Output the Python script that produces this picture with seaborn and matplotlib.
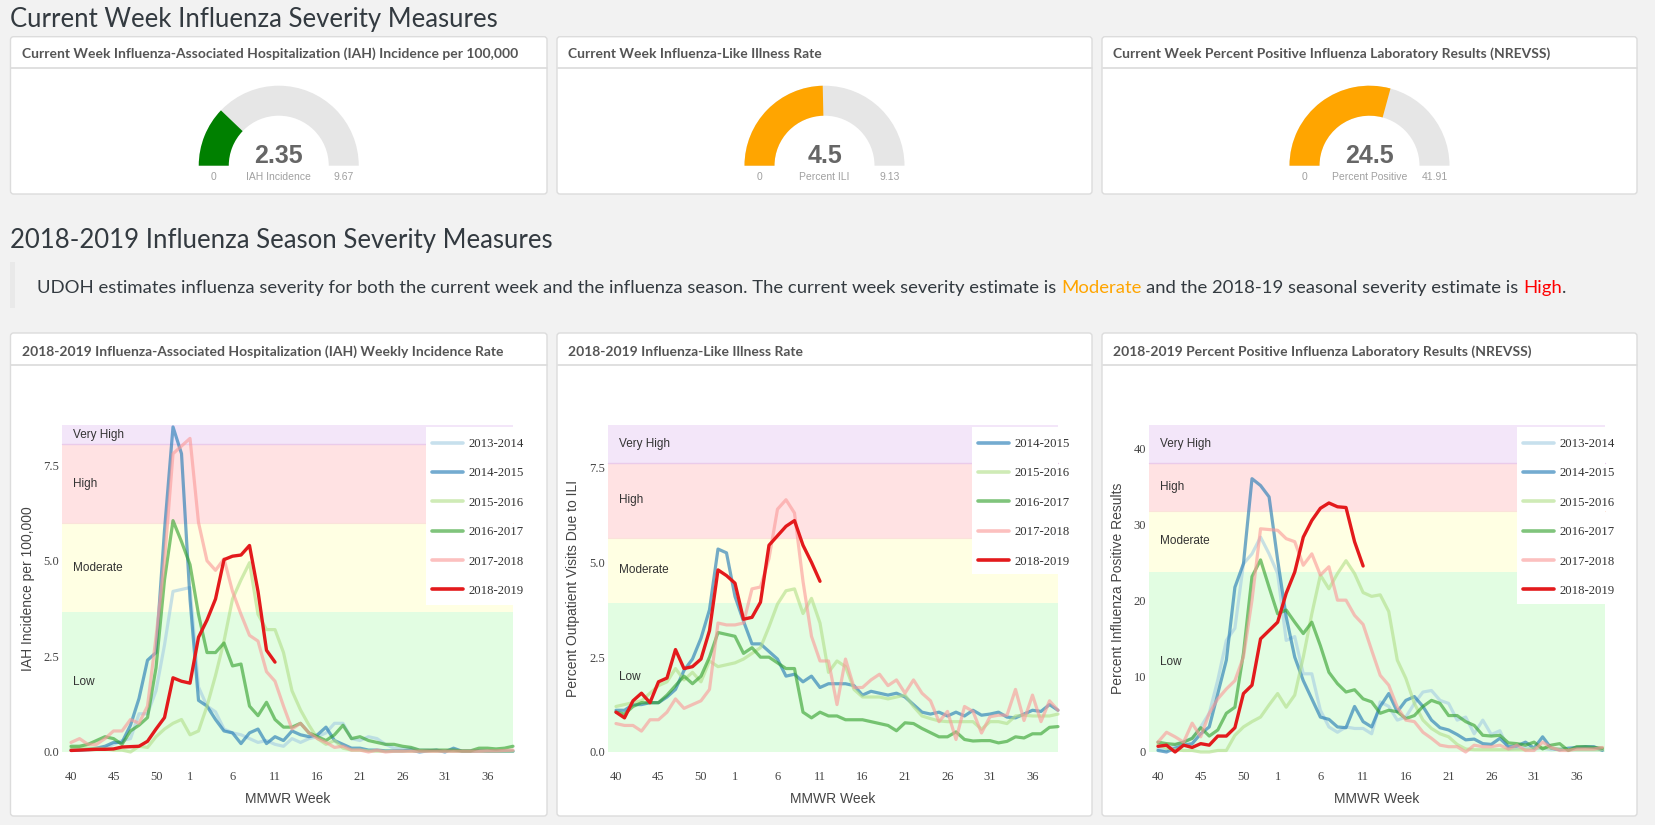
import numpy as np
import pandas as pd
import matplotlib
matplotlib.use("Agg")
import matplotlib.pyplot as plt
import seaborn as sns
from matplotlib.patches import Wedge, Rectangle, FancyBboxPatch
import matplotlib.transforms as mtransforms

# ---------------- data ----------------
MMWR_WEEKS = list(range(40, 54)) + list(range(1, 40))
TICK_WEEKS = [40, 45, 50, 1, 6, 11, 16, 21, 26, 31, 36]

SEASONS = ["2013-2014", "2014-2015", "2015-2016", "2016-2017", "2017-2018", "2018-2019"]
SEASON_COLORS = ["#a6cee3", "#1f78b4", "#b2df8a", "#33a02c", "#fb9a99", "#e31a1c"]

# IAH incidence per 100,000
iah_2013 = [0.05, 0.05, 0.05, 0.08, 0.1, 0.2, 0.3, 0.35, 1.0, 1.0,
            1.6, 2.8, 4.2, 4.25, 4.3, 1.7, 1.2, 1.05, 0.6, 0.5,
            0.45, 0.35, 0.25, 0.3, 0.2, 0.15, 0.35, 0.25, 0.35, 0.4,
            0.5, 0.75, 0.75, 0.35, 0.3, 0.4, 0.35, 0.2, 0.1, 0.08,
            0.1, 0.05, 0.05, 0.03, 0.03, 0.02, 0.02, 0.02, 0.02, 0.02, 0.02, 0.02, 0.02]
iah_2014 = [0.05, 0.05, 0.07, 0.1, 0.15, 0.25, 0.25, 0.7, 1.4, 2.4,
            2.6, 5.8, 8.5, 7.8, 4.0, 1.35, 1.2, 0.85, 0.55, 0.5,
            0.22, 0.5, 0.6, 0.22, 0.4, 0.3, 0.55, 0.45, 0.4, 0.45,
            0.65, 0.3, 0.2, 0.1, 0.1, 0.05, 0.05, 0.03, 0.03, 0.03,
            0.05, 0.0, 0.03, 0.05, 0.0, 0.1, 0.02, 0.02, 0.03, 0.02, 0.02, 0.02, 0.02]
iah_2015 = [0.1, 0.1, 0.1, 0.1, 0.08, 0.05, 0.05, 0.0, 0.15, 0.12,
            0.4, 0.6, 0.75, 0.85, 0.45, 0.55, 1.2, 2.0, 2.9, 4.0,
            4.5, 4.95, 3.6, 3.2, 3.2, 2.6, 1.6, 1.1, 0.7, 0.35,
            0.2, 0.3, 0.1, 0.05, 0.05, 0.03, 0.02, 0.02, 0.02, 0.02,
            0.02, 0.02, 0.02, 0.02, 0.02, 0.02, 0.02, 0.02, 0.02, 0.02, 0.02, 0.02, 0.02]
iah_2016 = [0.15, 0.15, 0.2, 0.3, 0.4, 0.35, 0.2, 0.55, 0.7, 0.9,
            2.2, 4.5, 6.05, 5.5, 4.9, 3.6, 2.6, 2.6, 2.85, 2.25,
            2.3, 1.2, 0.95, 1.3, 0.85, 0.65, 0.65, 0.75, 0.5, 0.4,
            0.3, 0.45, 0.7, 0.35, 0.4, 0.3, 0.25, 0.2, 0.2, 0.15,
            0.12, 0.05, 0.05, 0.05, 0.05, 0.05, 0.03, 0.03, 0.1, 0.1, 0.08, 0.1, 0.15]
iah_2017 = [0.25, 0.35, 0.2, 0.2, 0.35, 0.55, 0.55, 0.85, 0.75, 1.2,
            3.0, 5.0, 7.8, 8.0, 8.2, 6.0, 5.0, 4.75, 5.05, 4.2,
            3.6, 3.05, 2.9, 2.1, 1.85, 1.2, 0.6, 0.75, 0.5, 0.35,
            0.25, 0.12, 0.15, 0.05, 0.05, 0.0, 0.05, 0.0, 0.02, 0.02,
            0.02, 0.02, 0.02, 0.02, 0.02, 0.02, 0.02, 0.02, 0.02, 0.03, 0.03, 0.04, 0.05]
iah_2018 = [0.04, 0.05, 0.06, 0.07, 0.07, 0.08, 0.13, 0.14, 0.15, 0.28,
            0.6, 0.9, 1.94, 1.85, 1.8, 3.0, 3.45, 4.0, 5.03, 5.12,
            5.15, 5.4, 4.2, 2.66, 2.35]

# Percent outpatient visits due to ILI
ili_2014 = [1.1, 1.1, 1.25, 1.25, 1.3, 1.3, 1.45, 1.65, 2.15, 2.45,
            3.0, 3.75, 5.35, 5.25, 4.1, 3.45, 2.85, 2.85, 2.65, 2.45,
            2.0, 2.05, 1.85, 2.0, 1.7, 1.8, 1.8, 1.8, 1.75, 1.5,
            1.6, 1.55, 1.5, 1.55, 1.45, 1.25, 1.05, 1.0, 1.05, 0.95,
            1.05, 0.95, 1.1, 0.97, 1.0, 1.05, 0.92, 0.9, 1.0, 1.1, 1.07, 1.25, 1.1]
ili_2015 = [1.2, 1.25, 1.3, 1.35, 1.55, 1.75, 1.85, 2.2, 1.9, 2.1,
            1.85, 2.4, 2.25, 2.3, 2.35, 2.45, 2.6, 2.75, 3.3, 3.9,
            4.25, 4.3, 3.65, 4.05, 3.4, 2.1, 2.4, 2.25, 1.65, 1.45,
            1.45, 1.45, 1.4, 1.45, 1.5, 1.2, 0.95, 0.88, 0.82, 0.8,
            0.8, 0.8, 0.8, 0.6, 0.8, 0.8, 0.75, 0.95, 0.97, 0.95, 0.95, 0.95, 1.0]
ili_2016 = [1.05, 1.0, 1.2, 1.3, 1.3, 1.3, 1.5, 1.75, 2.0, 1.8,
            2.0, 2.5, 3.15, 3.1, 3.05, 2.6, 2.75, 2.5, 2.5, 2.35,
            2.2, 2.2, 1.05, 0.9, 1.05, 0.95, 0.95, 0.85, 0.85, 0.85,
            0.8, 0.75, 0.7, 0.56, 0.77, 0.75, 0.62, 0.51, 0.4, 0.4,
            0.53, 0.33, 0.29, 0.3, 0.3, 0.24, 0.28, 0.4, 0.37, 0.48, 0.48, 0.65, 0.67]
ili_2017 = [0.75, 0.7, 0.7, 0.55, 0.85, 0.85, 1.05, 1.4, 1.15, 1.25,
            1.35, 1.65, 3.4, 3.35, 3.35, 3.4, 4.3, 4.35, 5.1, 6.4,
            6.65, 6.3, 4.5, 3.05, 2.4, 2.4, 1.25, 2.45, 1.7, 1.7,
            1.9, 2.05, 1.75, 1.9, 1.55, 1.9, 1.55, 1.35, 0.8, 1.07,
            0.33, 1.2, 1.07, 0.5, 0.93, 0.97, 0.97, 1.65, 0.83, 1.5, 0.8, 1.35, 1.1]
ili_2018 = [1.05, 0.9, 1.35, 1.55, 1.3, 1.85, 1.95, 2.7, 2.2, 2.25,
            2.45, 3.2, 4.8, 4.65, 4.45, 3.5, 3.55, 3.95, 5.45, 5.7,
            5.95, 6.1, 5.45, 5.0, 4.5]

# Percent influenza positive results (NREVSS)
pos_2013 = [0.4, 0.2, 0.9, 1.3, 1.8, 3.3, 5.1, 9.5, 14.7, 16.3,
            24.8, 26.1, 28.3, 26.1, 23.5, 14.7, 15.2, 10.3, 10.3, 5.5,
            3.3, 2.6, 3.3, 3.1, 3.1, 2.4, 6.6, 6.0, 4.2, 4.6,
            6.4, 7.9, 8.1, 6.8, 6.4, 4.2, 4.6, 2.4, 4.2, 2.3,
            2.8, 0.4, 0.5, 0.6, 0.4, 0.5, 0.3, 0.4, 0.3, 0.3, 0.3, 0.3, 0.3]
pos_2014 = [0.2, 0.0, 0.5, 0.9, 1.1, 2.4, 3.3, 7.7, 12.1, 21.7,
            24.8, 36.0, 35.1, 33.6, 25.3, 17.8, 12.5, 9.4, 7.0, 4.6,
            4.3, 3.3, 3.2, 6.0, 4.0, 3.3, 6.0, 7.7, 5.3, 6.8,
            7.3, 6.0, 4.2, 3.2, 2.9, 2.3, 1.6, 1.7, 1.1, 1.0,
            1.8, 0.7, 0.8, 1.3, 0.5, 2.0, 0.5, 0.3, 0.5, 0.6, 0.7, 0.7, 0.2]
pos_2015 = [1.0, 0.5, 0.3, 0.2, 0.2, 0.0, 0.0, 0.2, 0.2, 2.2,
            3.3, 4.0, 4.6, 6.2, 7.7, 5.9, 7.5, 12.5, 18.2, 23.3,
            21.5, 23.5, 25.2, 23.5, 21.0, 20.5, 20.7, 18.5, 12.1, 9.7,
            6.4, 4.2, 3.1, 2.4, 2.0, 1.0, 0.4, 0.3, 0.3, 0.3,
            0.3, 0.3, 0.3, 0.3, 0.5, 0.6, 0.5, 0.4, 0.3, 0.3, 0.3, 0.3, 0.3]
pos_2016 = [1.3, 1.1, 1.0, 1.3, 1.8, 3.2, 2.1, 2.9, 5.1, 5.9,
            13.0, 23.1, 25.3, 21.7, 18.2, 18.7, 17.1, 15.6, 17.1, 14.0,
            10.5, 9.0, 7.9, 8.2, 7.0, 6.6, 5.1, 5.5, 5.3, 4.4,
            4.8, 6.0, 6.8, 6.4, 4.8, 4.8, 4.0, 3.5, 2.2, 2.1,
            2.2, 1.2, 1.1, 0.9, 1.3, 0.4, 0.9, 1.1, 0.2, 0.7, 0.7, 0.6, 0.5]
pos_2017 = [1.3, 2.6, 2.0, 1.3, 3.8, 2.0, 5.1, 7.0, 8.3, 9.4,
            12.5, 20.0, 29.4, 29.3, 29.2, 28.1, 27.7, 24.6, 26.1, 23.3,
            24.4, 20.0, 20.0, 18.0, 16.8, 13.4, 10.1, 8.8, 5.9, 4.2,
            4.0, 2.6, 1.8, 0.9, 0.7, 0.7, 0.0, 0.9, 0.7, 0.7,
            0.9, 0.4, 0.9, 0.2, 0.2, 1.3, 0.6, 0.2, 0.2, 0.4, 0.4, 0.4, 0.6]
pos_2018 = [0.75, 0.9, 0.0, 0.9, 0.6, 1.1, 0.9, 2.1, 2.1, 3.2,
            7.7, 8.8, 14.9, 16.0, 17.1, 20.9, 23.7, 28.3, 30.5, 32.1,
            32.8, 32.3, 32.2, 27.7, 24.5]

# severity thresholds (band edges) for each chart
BAND_NAMES = ["Low", "Moderate", "High", "Very High"]
BAND_COLORS = ["#E2FDE2", "#FFFFE3", "#FFE2E3", "#F3E6F9"]
iah_bands = [0, 3.66, 5.98, 8.05, 8.55]
ili_bands = [0, 3.93, 5.65, 7.61, 8.62]
pos_bands = [0, 23.73, 31.78, 38.02, 43.07]

# current-week gauges
gauge_titles = ["Current Week Influenza-Associated Hospitalization (IAH) Incidence per 100,000",
                "Current Week Influenza-Like Illness Rate",
                "Current Week Percent Positive Influenza Laboratory Results (NREVSS)"]
gauge_values = [2.35, 4.5, 24.5]
gauge_values_txt = ["2.35", "4.5", "24.5"]
gauge_max = [9.67, 9.13, 41.91]
gauge_max_txt = ["9.67", "9.13", "41.91"]
gauge_labels = ["IAH Incidence", "Percent ILI", "Percent Positive"]
gauge_colors = ["#008000", "#FFA500", "#FFA500"]

chart_titles = ["2018-2019 Influenza-Associated Hospitalization (IAH) Weekly Incidence Rate",
                "2018-2019 Influenza-Like Illness Rate",
                "2018-2019 Percent Positive Influenza Laboratory Results (NREVSS)"]
y_titles = ["IAH Incidence per 100,000", "Percent Outpatient Visits Due to ILI",
            "Percent Influenza Positive Results"]

# ---------------- figure ----------------
sns.set_style("white")
plt.rcParams["font.family"] = ["Lato", "DejaVu Sans"]
W, H = 1655, 825
fig = plt.figure(figsize=(W / 100, H / 100), dpi=100)
fig.patch.set_facecolor("#F2F2F2")

bg = fig.add_axes([0, 0, 1, 1], zorder=0)
bg.set_xlim(0, W)
bg.set_ylim(H, 0)
bg.axis("off")

def px_axes(x0, y0, x1, y1, z=2):
    return fig.add_axes([x0 / W, 1 - y1 / H, (x1 - x0) / W, (y1 - y0) / H], zorder=z)

def panel(x0, y0, x1, y1, yhead):
    bg.add_patch(FancyBboxPatch((x0, y0), x1 - x0, y1 - y0,
                                boxstyle="round,pad=0,rounding_size=3",
                                fc="white", ec="#DCDCDC", lw=1.0))
    bg.plot([x0 + 0.5, x1 - 0.5], [yhead, yhead], color="#DDDDDD", lw=1.3)

PX = [(10.5, 547), (557, 1092), (1102, 1637)]

TITLE_COLOR = "#333A40"
bg.text(10.5, 27, "Current Week Influenza Severity Measures", fontsize=18.5,
        color=TITLE_COLOR, family="Lato", va="baseline")

# top gauge panels
for i, (x0, x1) in enumerate(PX):
    panel(x0, 36.7, x1, 194, 68.3)
    bg.text(x0 + 11, 54, gauge_titles[i], fontsize=10, fontweight="bold",
            color="#555555", family="Lato", va="center")
    cx, cy = (x0 + x1) / 2, 165.7
    frac = gauge_values[i] / gauge_max[i]
    bg.add_patch(Wedge((cx, cy), 80, 180, 360, width=30, fc="#E6E6E6", ec="none"))
    bg.add_patch(Wedge((cx, cy), 80, 180, 180 + 180 * frac, width=30,
                       fc=gauge_colors[i], ec="none"))
    bg.text(cx, 163, gauge_values_txt[i], fontsize=18, fontweight="bold", color="#666666",
            family="Liberation Sans", ha="center", va="baseline")
    bg.text(cx - 65, 177, "0", fontsize=7.5, color="#A0A0A0", family="Liberation Sans",
            ha="center", va="center")
    bg.text(cx, 177, gauge_labels[i], fontsize=7.5, color="#A0A0A0", family="Liberation Sans",
            ha="center", va="center")
    bg.text(cx + 65, 177, gauge_max_txt[i], fontsize=7.5, color="#A0A0A0",
            family="Liberation Sans", ha="center", va="center")

bg.text(10.5, 248, "2018-2019 Influenza Season Severity Measures", fontsize=18.5,
        color=TITLE_COLOR, family="Lato", va="baseline")

# blockquote
bg.add_patch(Rectangle((10, 262), 5, 46, fc="#E9E9E9", ec="none"))
renderer = fig.canvas.get_renderer()
PFS = 13.3
pieces = [("UDOH estimates influenza severity for both the current week and the influenza season. "
           "The current week severity estimate is", "#333A40"),
          ("Moderate", "#FFA500"),
          ("and the 2018-19 seasonal severity estimate is", "#333A40"),
          ("High", "#FF0000"),
          (".", "#333A40")]
def twidth(s):
    t = bg.text(0, 0, s, fontsize=PFS, family="Lato")
    w = t.get_window_extent(renderer).width
    t.remove()
    return w
space_w = twidth("a a") - twidth("aa")
xpos = 37
for k, (s, c) in enumerate(pieces):
    t = bg.text(xpos, 293, s, fontsize=PFS, color=c, family="Lato", va="baseline")
    w = t.get_window_extent(renderer).width
    xpos += w + (space_w if k < 3 else 0)

# bottom chart panels
for i, (x0, x1) in enumerate(PX):
    panel(x0, 333, x1, 816, 365)
    bg.text(x0 + 11, 352, chart_titles[i], fontsize=10, fontweight="bold",
            color="#555555", family="Lato", va="center")

charts = [
    dict(rect=(62, 425, 513, 752), xlim=(-1.06, 52.0), bands=iah_bands,
         series=[iah_2013, iah_2014, iah_2015, iah_2016, iah_2017, iah_2018],
         seasons=SEASONS, yticks=[0, 2.5, 5.0, 7.5], ylab=["0.0", "2.5", "5.0", "7.5"],
         leg_box=0.807, leg_bottom=0.4495, ylabx=-0.060),
    dict(rect=(608, 425, 1058, 752), xlim=(-0.94, 52.0), bands=ili_bands,
         series=[ili_2014, ili_2015, ili_2016, ili_2017, ili_2018],
         seasons=SEASONS[1:], yticks=[0, 2.5, 5.0, 7.5], ylab=["0.0", "2.5", "5.0", "7.5"],
         leg_box=0.809, leg_bottom=0.544, ylabx=-0.062),
    dict(rect=(1149, 425, 1605, 752), xlim=(-1.05, 52.3), bands=pos_bands,
         series=[pos_2013, pos_2014, pos_2015, pos_2016, pos_2017, pos_2018],
         seasons=SEASONS, yticks=[0, 10, 20, 30, 40], ylab=["0", "10", "20", "30", "40"],
         leg_box=0.807, leg_bottom=0.453, ylabx=-0.053),
]

color_of = dict(zip(SEASONS, SEASON_COLORS))
tick_pos = [MMWR_WEEKS.index(w) for w in TICK_WEEKS]
serif = "Liberation Serif"
sans = "Liberation Sans"

for ci, ch in enumerate(charts):
    ax = px_axes(*ch["rect"])
    ax.set_facecolor("white")
    b = ch["bands"]
    ax.set_xlim(*ch["xlim"])
    ax.set_ylim(0, b[-1])
    for k in range(4):
        ax.axhspan(b[k], b[k + 1], color=BAND_COLORS[k], lw=0, zorder=0)
        ax.text(0.024, (b[k] + b[k + 1]) / 2, BAND_NAMES[k],
                transform=mtransforms.blended_transform_factory(ax.transAxes, ax.transData),
                fontsize=8.5, color="#333333", family=sans, va="center", ha="left", zorder=1)
    ax.axhline(b[3], color="#EACBEA", lw=1.0, zorder=0.5)
    ax.axhline(b[2], color="#FBE2DA", lw=0.8, zorder=0.5)

    rows = []
    for s, vals in zip(ch["seasons"], ch["series"]):
        for j, v in enumerate(vals):
            rows.append((s, j, MMWR_WEEKS[j], v))
    df = pd.DataFrame(rows, columns=["season", "pos", "week", "value"])

    for s in ch["seasons"]:
        d = df[df["season"] == s]
        cur = s == "2018-2019"
        sns.lineplot(data=d, x="pos", y="value", ax=ax, color=color_of[s],
                     alpha=1.0 if cur else 0.62, lw=2.4 if cur else 2.3,
                     label=s, zorder=2, estimator=None, sort=False)
    for ln in ax.lines:
        ln.set_clip_on(False)
        ln.set_solid_joinstyle("round")

    # legend background box
    ax.add_patch(Rectangle((ch["leg_box"], ch["leg_bottom"]), 1 - ch["leg_box"],
                           0.995 - ch["leg_bottom"], transform=ax.transAxes,
                           fc="white", ec="none", zorder=3))
    handles, labels = ax.get_legend_handles_labels()
    leg = ax.legend(handles, labels, loc="upper left",
                    bbox_to_anchor=(ch["leg_box"] + 0.013, 0.960), frameon=False,
                    prop=dict(family=serif, size=9.2), labelspacing=1.36,
                    handlelength=2.45, handletextpad=0.45, borderpad=0, borderaxespad=0)
    leg.set_zorder(5)
    for t in leg.get_texts():
        t.set_color("#333333")
    for hl in leg.get_lines():
        hl.set_linewidth(2.6)

    ax.set_xticks(tick_pos)
    ax.set_xticklabels([str(w) for w in TICK_WEEKS])
    ax.set_yticks(ch["yticks"])
    ax.set_yticklabels(ch["ylab"])
    ax.tick_params(axis="x", length=0, pad=14, labelsize=9, labelcolor="#444444")
    ax.tick_params(axis="y", length=0, pad=2, labelsize=9, labelcolor="#444444")
    for lab in ax.get_xticklabels() + ax.get_yticklabels():
        lab.set_family(serif)
    for sp in ax.spines.values():
        sp.set_visible(False)
    ax.grid(False)
    ax.set_xlabel("MMWR Week", fontsize=10, color="#444444", family=sans, labelpad=6.5)
    ax.set_ylabel(y_titles[ci], fontsize=10, color="#444444", family=sans)
    ax.yaxis.set_label_coords(ch["ylabx"], 0.5)

fig.savefig("out.png", dpi=100, facecolor=fig.get_facecolor())
